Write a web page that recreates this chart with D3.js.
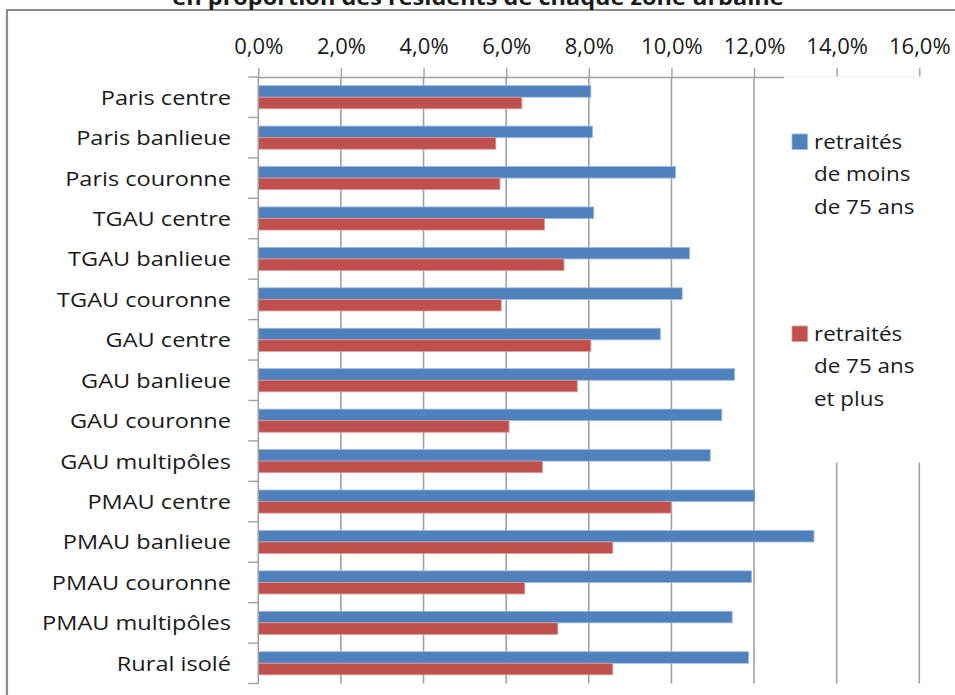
<!DOCTYPE html>
<html>
<head>
<meta charset="utf-8">
<script src="https://cdn.jsdelivr.net/npm/d3@7"></script>
<style>
  html, body { margin: 0; padding: 0; background: #fff; }
  svg { display: block; }
  text { font-family: "Open Sans", "Noto Sans", sans-serif; fill: #1a1a1a; }
</style>
</head>
<body>
<svg id="chart" width="955" height="695"></svg>
<script>
// Zones urbaines (ordre d'affichage, de haut en bas)
const categories = [
  "Paris centre", "Paris banlieue", "Paris couronne",
  "TGAU centre", "TGAU banlieue", "TGAU couronne",
  "GAU centre", "GAU banlieue", "GAU couronne", "GAU multipôles",
  "PMAU centre", "PMAU banlieue", "PMAU couronne", "PMAU multipôles",
  "Rural isolé"
];
// Part des retraités dans la population de chaque zone
const moins75 = [0.0805, 0.0809, 0.1010, 0.0812, 0.1044, 0.1026, 0.0973, 0.1153, 0.1122, 0.1094, 0.1202, 0.1345, 0.1194, 0.1147, 0.1187];
const plus75  = [0.0638, 0.0575, 0.0585, 0.0693, 0.0740, 0.0588, 0.0805, 0.0772, 0.0607, 0.0688, 0.0999, 0.0858, 0.0645, 0.0725, 0.0858];
const seriesNames = [["retraités", "de moins", "de 75 ans"], ["retraités", "de 75 ans", "et plus"]];
const xTicks = [0, 0.02, 0.04, 0.06, 0.08, 0.10, 0.12, 0.14, 0.16];
const title = "en proportion des résidents de chaque zone urbaine";

const colors = ["#4F81BD", "#C0504D"];
const edgeColors = ["#9DB9DD", "#DC9A98"];

const svg = d3.select("#chart");
const fr = d3.formatLocale({decimal: ",", thousands: " ", grouping: [3], currency: ["", " €"]});
const pct = fr.format(".1%");

// Cadre du graphique
svg.append("path")
  .attr("d", "M7,700 V10 H960")
  .attr("fill", "none").attr("stroke", "#8C8C8C").attr("stroke-width", 2.2);

// Titre (sa partie haute dépasse du cadre de la page)
svg.append("text")
  .attr("transform", "translate(478,4.5) scale(1.12,1)")
  .attr("text-anchor", "middle")
  .attr("font-weight", "bold").attr("font-size", 21)
  .text(title);

const plotTop = 77, plotBottom = 683.5;
const x = d3.scaleLinear().domain([0, 0.16]).range([258.3, 919.3]);
const y = d3.scaleBand().domain(categories).range([plotTop, plotBottom])
  .paddingInner(1.5 / 3.5).paddingOuter(0.75 / 3.5);
const ySub = d3.scaleBand().domain([0, 1]).range([0, y.bandwidth()]);

// Quadrillage vertical
svg.append("g").selectAll("line")
  .data(xTicks.slice(1))
  .join("line")
  .attr("x1", d => x(d)).attr("x2", d => x(d))
  .attr("y1", plotTop).attr("y2", plotBottom)
  .attr("stroke", "#A0A0A0").attr("stroke-width", 1.6);

// Axe des valeurs (en haut)
const xAxis = svg.append("g")
  .attr("transform", `translate(0,${plotTop})`)
  .call(d3.axisTop(x).tickValues(xTicks).tickFormat(pct).tickSizeInner(9).tickSizeOuter(0).tickPadding(14));
xAxis.select(".domain").attr("stroke", "#A0A0A0").attr("stroke-width", 1.6);
xAxis.selectAll(".tick line").attr("stroke", "#A0A0A0").attr("stroke-width", 1.4);
xAxis.selectAll(".tick text")
  .attr("font-size", 22).attr("fill", "#1a1a1a")
  .style("font-family", '"Open Sans", sans-serif');

// Barres
const groups = svg.append("g").selectAll("g")
  .data(categories)
  .join("g")
  .attr("transform", d => `translate(0,${y(d)})`);
[moins75, plus75].forEach((vals, s) => {
  groups.append("rect")
    .attr("x", x(0))
    .attr("y", ySub(s))
    .attr("width", (d, i) => x(vals[i]) - x(0))
    .attr("height", ySub.bandwidth())
    .attr("fill", colors[s])
    .attr("stroke", edgeColors[s]).attr("stroke-width", 0.8);
});

// Axe des catégories (à gauche), graduations entre les catégories
svg.append("line")
  .attr("x1", x(0)).attr("x2", x(0)).attr("y1", plotTop).attr("y2", plotBottom)
  .attr("stroke", "#A0A0A0").attr("stroke-width", 1.6);
svg.append("g").selectAll("line")
  .data(d3.range(categories.length + 1))
  .join("line")
  .attr("x1", x(0) - 10).attr("x2", x(0))
  .attr("y1", i => plotTop + i * y.step()).attr("y2", i => plotTop + i * y.step())
  .attr("stroke", "#A0A0A0").attr("stroke-width", 1.4);
svg.append("g").selectAll("text")
  .data(categories)
  .join("text")
  .attr("transform", d => `translate(231,${y(d) + y.bandwidth() / 2 + 7.5}) scale(1.22,1)`)
  .attr("text-anchor", "end")
  .attr("font-size", 19.3)
  .text(d => d);

// Légende (fond blanc posé sur la zone de tracé)
const legend = svg.append("g");
legend.append("rect")
  .attr("x", 784).attr("y", 76.5).attr("width", 180).attr("height", 386)
  .attr("fill", "#fff");
const legendTop = [134, 326];
seriesNames.forEach((lines, s) => {
  legend.append("rect")
    .attr("x", 792).attr("y", legendTop[s]).attr("width", 15.5).attr("height", 15.5)
    .attr("fill", colors[s]).attr("stroke", edgeColors[s]).attr("stroke-width", 0.8);
  lines.forEach((t, j) => {
    legend.append("text")
      .attr("transform", `translate(814,${legendTop[s] + 14.5 + j * 32.5}) scale(1.12,1)`)
      .attr("font-size", 20)
      .text(t);
  });
});
</script>
</body>
</html>
